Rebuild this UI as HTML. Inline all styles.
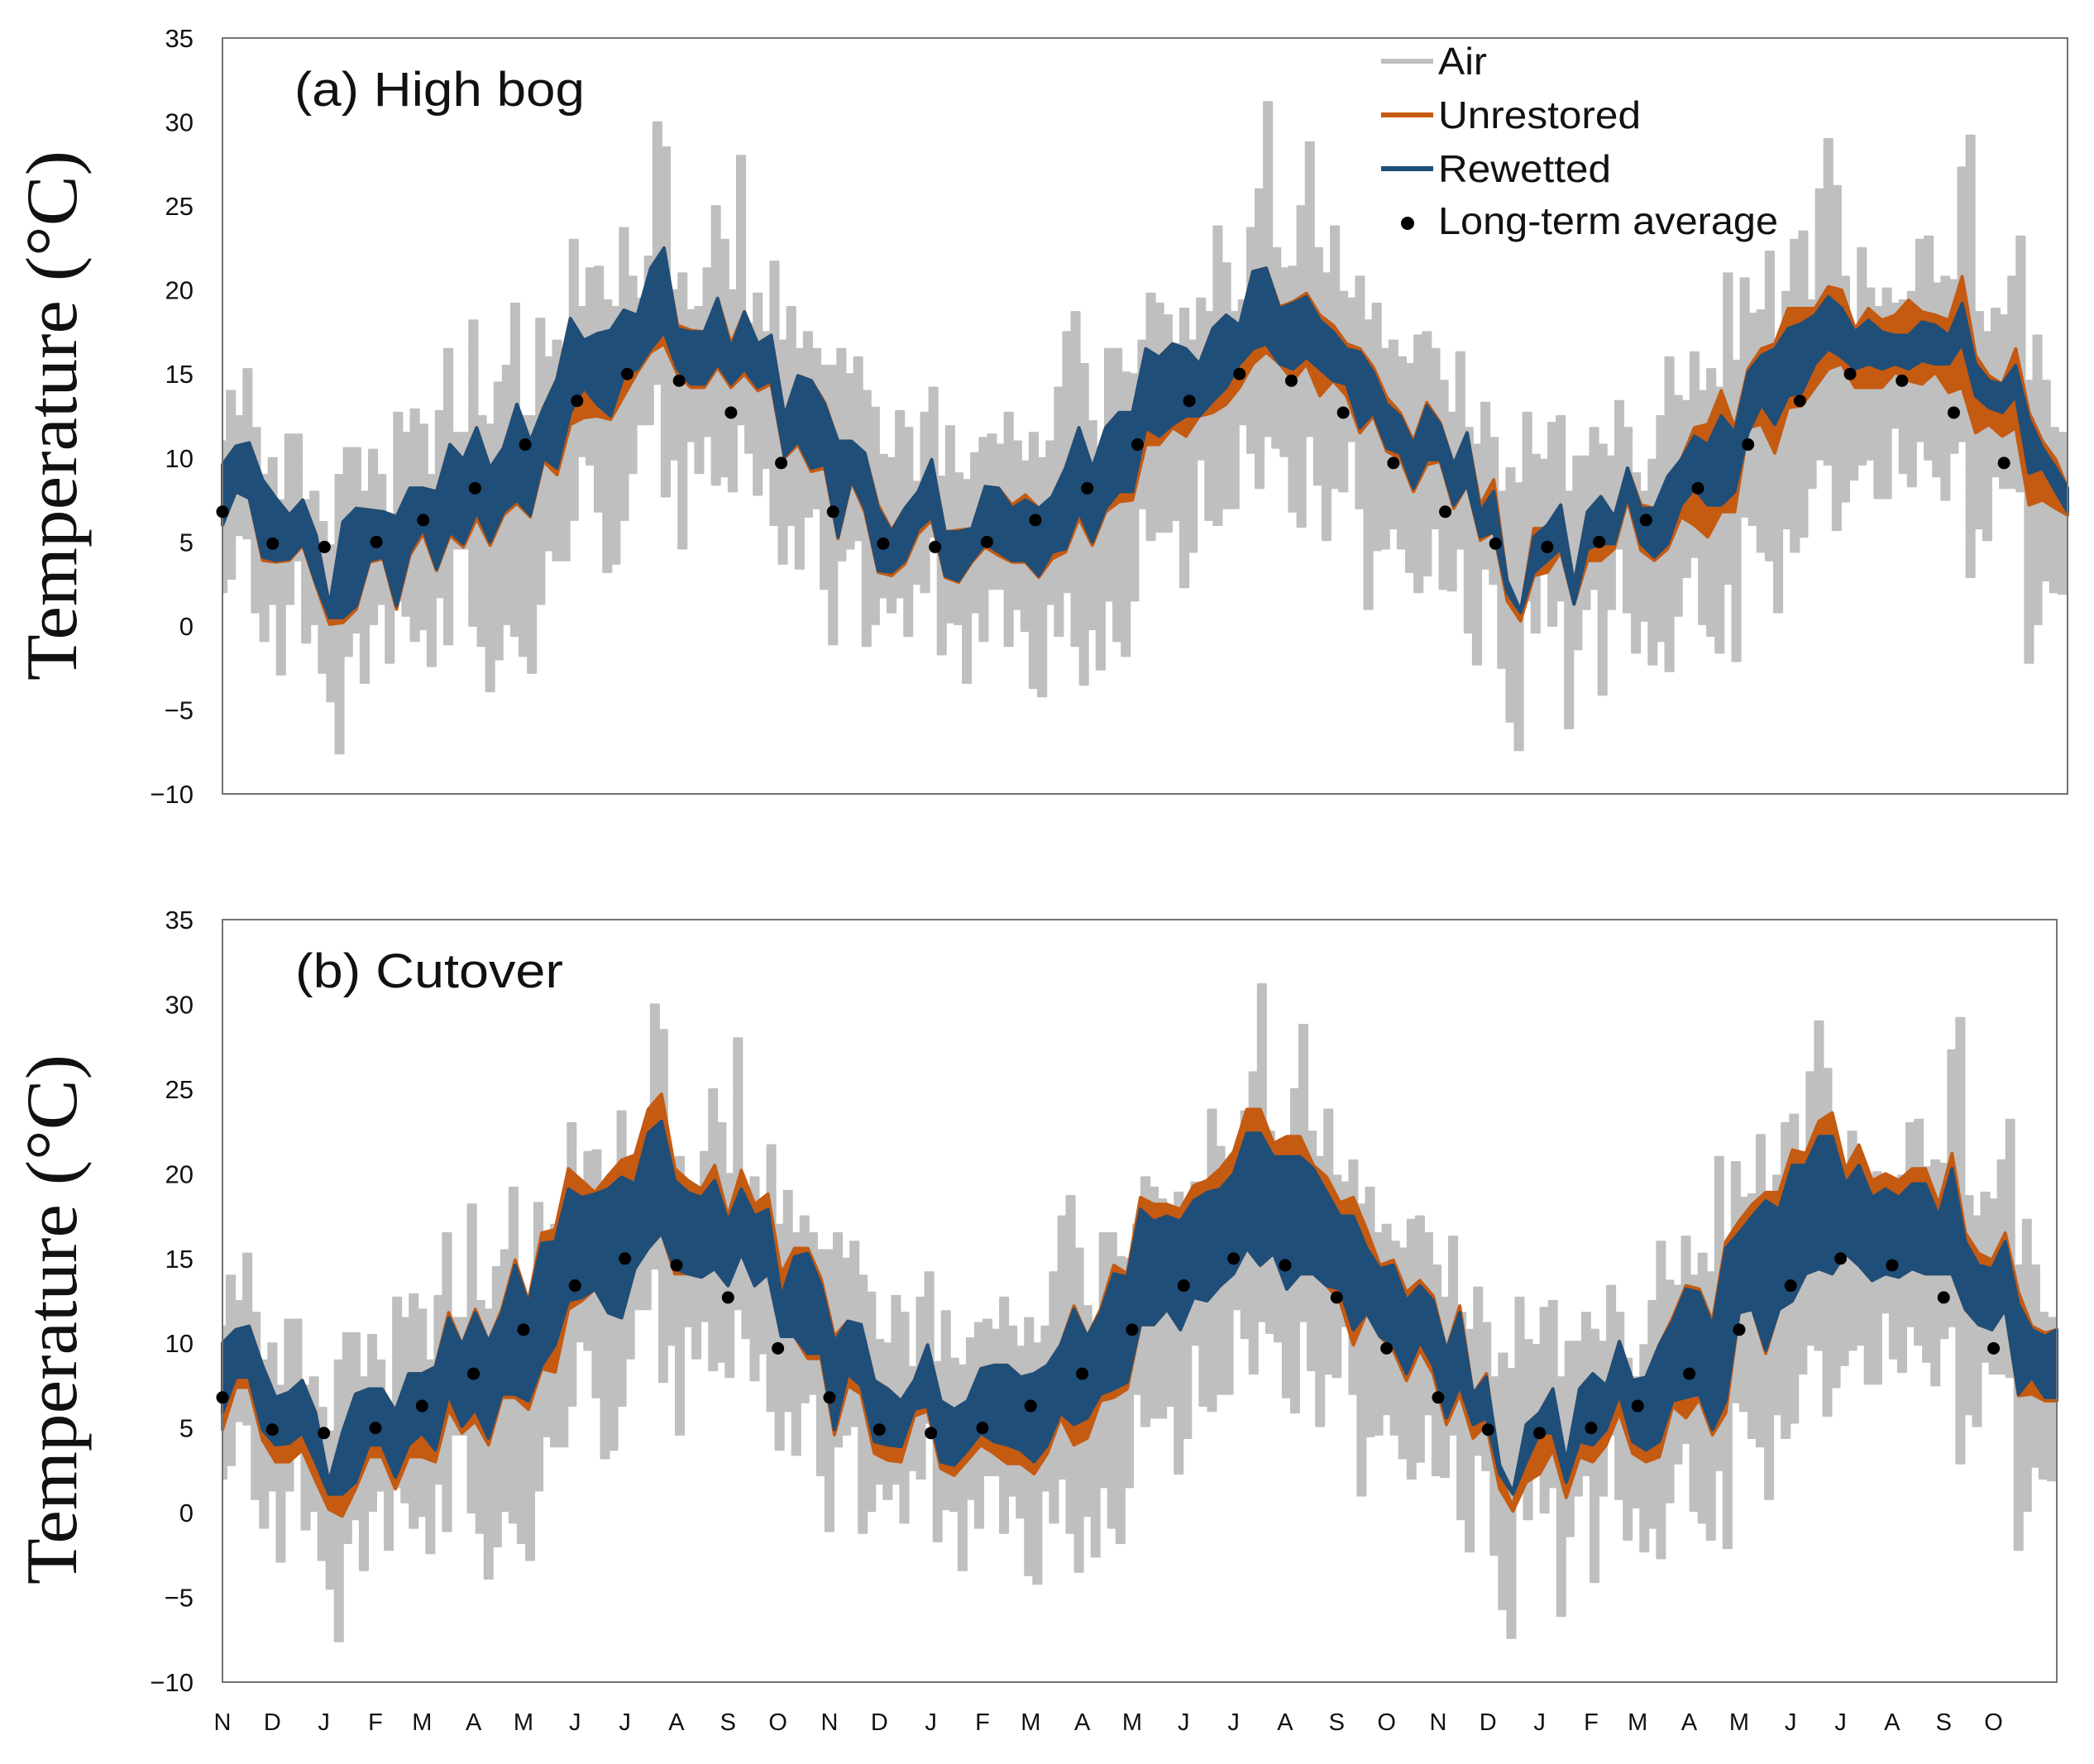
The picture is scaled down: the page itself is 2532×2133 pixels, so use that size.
<!DOCTYPE html>
<html lang="en">
<head>
<meta charset="utf-8">
<title>Temperature chart: high bog and cutover</title>
<style>
html,body{margin:0;padding:0;background:#fff;}
svg{display:block;}
text{font-family:"Liberation Sans",sans-serif;fill:#111;}
</style>
</head>
<body>
<svg id="chart" xmlns="http://www.w3.org/2000/svg" width="2532" height="2133" viewBox="0 0 2532 2133">
  <rect x="0" y="0" width="2532" height="2133" fill="#ffffff"/>
  <g id="panel-a"></g>
  <g id="panel-b"></g>
  <text x="356" y="128" font-size="58" textLength="351" lengthAdjust="spacingAndGlyphs">(a) High bog</text>
  <text x="357" y="1194" font-size="58" textLength="324" lengthAdjust="spacingAndGlyphs">(b) Cutover</text>
  <text transform="translate(92,823) rotate(-90)" style="font-family:'Liberation Serif',serif" font-size="88" textLength="641" lengthAdjust="spacingAndGlyphs">Temperature (°C)</text>
  <text transform="translate(92,1916) rotate(-90)" style="font-family:'Liberation Serif',serif" font-size="88" textLength="641" lengthAdjust="spacingAndGlyphs">Temperature (°C)</text>
  <g>
    <line x1="1670" x2="1733" y1="74" y2="74" stroke="#bfbfbf" stroke-width="6"/>
    <text x="1739" y="90" font-size="46" textLength="59" lengthAdjust="spacingAndGlyphs">Air</text>
    <line x1="1670" x2="1733" y1="139" y2="139" stroke="#c55a11" stroke-width="6"/>
    <text x="1739" y="155" font-size="46" textLength="245" lengthAdjust="spacingAndGlyphs">Unrestored</text>
    <line x1="1670" x2="1733" y1="204" y2="204" stroke="#1f4e79" stroke-width="6"/>
    <text x="1739" y="220" font-size="46" textLength="209" lengthAdjust="spacingAndGlyphs">Rewetted</text>
    <circle cx="1702" cy="270" r="8" fill="#000"/>
    <text x="1739" y="283" font-size="46" textLength="411" lengthAdjust="spacingAndGlyphs">Long-term average</text>
  </g>
</svg>
<script>
const yTickLabels = [35,30,25,20,15,10,5,0,-5,-10];
const monthLabels = ["N","D","J","F","M","A","M","J","J","A","S","O","N","D","J","F","M","A","M","J","J","A","S","O","N","D","J","F","M","A","M","J","J","A","S","O"];
const monthStartDay = [0,30,61,92,120,151,181,212,242,273,304,334,365,395,426,457,486,517,547,578,608,639,670,700,731,761,792,823,851,882,912,943,973,1004,1035,1065];
const longTermAverage = [6.8,4.9,4.7,5,6.3,8.2,10.8,13.4,15,14.6,12.7,9.7,6.8,4.9,4.7,5,6.3,8.2,10.8,13.4,15,14.6,12.7,9.7,6.8,4.9,4.7,5,6.3,8.2,10.8,13.4,15,14.6,12.7,9.7];
const dayDomain = 1103;
const airStepDays = 5;
const bandStepDays = 8;

const airHigh = [11,14,12.5,15.3,11.8,9,10,7.5,11.4,11.4,7.5,8,6.2,4.8,9,10.6,10.6,8,10.5,9,6.5,12.7,11.5,12.9,12,9,12.8,16.5,11.5,11.5,18.2,12.5,12,14.5,15.5,19.2,12.5,12.5,18.3,16,17,16.5,23,19,21.3,21.4,19.4,19,23.7,20.8,19.5,22,30,28.5,20,21,18.8,19,21.3,25,23,20,28,18,19.8,17.5,21.7,17,19,16.5,17.5,16.5,15.5,15.5,16.5,
15,16,14,13,10.2,10,12.8,11.8,8.6,12.7,14.2,8.9,11.9,9.1,8.7,10.3,11.2,11.4,10.8,12.7,11,9.8,11.5,10,11,14.2,17.5,18.7,15.6,12.2,10.6,16.5,16.5,15.1,15,17,19.8,19.2,18.5,16.8,18.9,17,19.5,18.7,23.8,21.6,18.7,19.4,23.7,26,31.2,22.5,21.3,21.4,25,28.8,22.5,21,23.8,19.9,19.5,20.8,18.2,19.2,16.5,17,16,15.6,17.3,17.5,16.5,14.6,12.7,16.3,
11.8,10.8,13.3,11.2,8,9.4,8.5,12.7,10.2,9.9,12.1,12.5,8,10.1,10.1,11.8,10.8,10.1,13.4,11.8,9.1,8,9.9,12.5,16,13.7,13.4,16.3,14,15.3,14.2,21,15.8,20.7,18.6,18.8,22.3,15.8,19.9,23,23.5,19.4,26,29,26.2,20.8,17.5,22.5,20.1,19,20.1,19.2,19.4,19.9,23,23.2,20.4,20.8,20.6,27.3,29.2,18.7,17.5,18.9,18.5,20.8,23.2,14.6,17.3,14.6,11.8,11.5];
const airLow = [2,2.8,5.4,5.2,.8,-.9,1.3,-2.9,1.3,3.9,-1,.1,-2.8,-4.5,-7.6,-1.8,-.4,-3.4,.1,1.3,-2.2,1.5,.6,-.9,-.2,-2.4,1.7,-1.1,4.6,4.6,0,-1.2,-3.9,-2,.1,-.6,-1.8,-2.8,1.3,4.5,3.9,3.9,6.3,10.1,9.6,6.8,3.2,3.7,6.3,9.1,12,12,14.4,7.7,9.9,4.6,11,9.1,11.3,8.4,8.9,8,12,10.3,7.8,9.4,6,3.7,6,3.4,6.5,7,2.2,-1.1,3.9,
4.6,5.1,-1.2,.1,1.7,.8,1.7,-.6,2.5,2,5.3,-1.7,.2,.1,-3.4,.8,-.9,2.2,2.2,-1.2,1,-.3,-3.7,-4.2,1.3,-.6,2,-1.2,-3.5,-.2,-2.6,1.5,-.9,-1.8,1.5,7,5.1,5.6,5.6,6.3,2.3,4.4,9.9,6.3,6,7,7,12,10.3,8.2,11.3,10.6,10.1,6.8,5.9,11.3,8.4,5.1,8.2,8,11,7,1,4.5,4.6,5.8,4.6,3.2,2,3,5.8,2.2,2.1,4.6,
-.4,-2.3,3.4,2.5,-2.5,-5.7,-7.4,1.5,-.4,4.6,0,1.5,-6.1,-1.4,1,2.2,-4.1,1,4.6,.8,-1.6,.3,-2.3,-.9,-2.7,.6,2.9,4.1,.1,-.6,-1.6,2.5,-2.1,6.5,6,4.4,3.9,.8,5.8,4.4,5.3,8.2,9.9,9.6,5.7,7.4,8.7,9.6,9.9,7.6,7.6,11.8,9.1,8.3,11,9.9,8.9,7.5,10.3,11,2.9,5.8,5.1,8.9,8.2,8.2,8,-2.2,.1,2.7,2,1.9];

const bogUnrestoredHigh = [9.6,10.7,10.9,8.7,7.6,6.6,7.5,5.4,1.2,6,7,6.9,6.8,6.5,8.2,8.2,8,10.8,9.9,11.8,9.4,10.6,13.2,11,13,14.7,18.3,17,17.4,17.6,18.8,18.5,21,22.3,17.9,17.6,17.5,19.5,16.8,18.7,16.8,17.3,12.5,14.9,14.6,13.3,11,
11,10.3,7.2,5.7,7,8,9.9,5.6,5.7,5.8,8.3,8.2,7.2,7.8,7,7.7,9.4,11.8,9.4,11.8,12.7,12.7,16.5,16,16.8,16.5,15.6,17.7,18.5,17.9,21.1,21.3,19,19.3,19.8,18.5,17.9,16.8,16.5,15.4,13.6,12.7,11,13.3,12.1,9.6,
11.5,7.2,8.7,2.7,.8,5.8,5.8,7.2,2.5,6.8,7.7,6.5,9.4,7.2,7,8.7,9.9,11.8,12,14,11.8,15.3,16.5,16.8,18.9,18.9,18.9,20.2,20,17.7,18.9,18.2,18.5,19.4,18.7,18.5,18.2,20.8,16.1,14.9,14.4,16.5,12.7,11,9.9,8.2];
const bogUnrestoredLow = [6,8,7.6,3.9,3.8,3.9,4.8,2.4,.1,.2,1,3.8,4,1,4.2,5.5,3.3,5.4,4.7,6.4,4.8,6.6,7.3,6.5,9.8,9,12,12.4,12.5,12.3,13.7,15.1,16.3,16.8,15,14.2,14.2,15.4,14.2,15,14,14.4,10,10.8,9.2,9.4,5.2,
8.6,6.8,3.2,3,3.7,5.5,6.3,2.9,2.6,3.8,4.7,4.2,3.8,3.8,2.9,4,4.4,6.4,4.8,6.8,7.4,7.5,10.8,10.8,11.8,11.3,12.5,12.7,13.2,14.2,15.6,16.3,15.6,14.6,15.6,13.7,14.6,13.7,11.5,12.5,10.4,10,8,9.6,9.8,7,
8.4,5.1,5.6,1.5,.3,3,3.2,4.4,1.3,3.9,3.9,4.6,7.5,4.5,3.9,4.6,6.5,6,5.3,6.8,6.8,11.8,12,10.3,13,13.1,14.2,15.3,15.6,14.2,14.2,14.2,15.1,14.6,14.4,15.1,13.9,14.2,11.5,12,11.3,11.8,7.2,7.5,7,6.6];
const bogRewettedHigh = [9.6,10.7,10.9,8.7,7.6,6.6,7.5,5.4,1.2,6.2,7,6.9,6.8,6.5,8.2,8.2,8,10.8,9.9,11.8,9.4,10.6,13.2,11,13,14.7,18.3,17,17.4,17.6,18.8,18.5,21.3,22.5,17.7,17.5,17.5,19.5,16.5,18.7,16.8,17.3,12.5,14.9,14.6,13.2,11,
11,10.3,7,5.6,7,8,9.9,5.6,5.6,5.8,8.3,8.2,7,7.5,7,7.7,9.4,11.8,9.4,11.8,12.7,12.7,16.5,16,16.8,16.5,15.6,17.7,18.5,17.9,21.1,21.3,18.9,19.2,19.6,18.2,17.5,16.5,16.3,15.1,13.2,12.5,10.8,13.1,12,9.6,
11.5,6.8,8,2.7,.9,5.3,6,7.2,2.5,6.8,7.7,6.5,9.4,7,7,8.9,9.9,11.3,10.8,12.5,11.5,15.1,16.1,16.5,17.7,18,18.5,19.6,18.9,17.5,18.2,17.5,17.3,17.3,18.1,17.9,17.3,19.2,15.6,14.6,14.4,15.5,12.3,10.6,9.4,8.2];
const bogRewettedLow = [6,8,7.6,4.1,3.9,4,4.9,2.5,.5,.5,1.2,3.9,4.1,1.2,4.4,5.8,3.4,5.6,4.9,6.8,5,6.8,7.5,6.6,10,9.4,12.7,14.2,13.2,12.5,14.9,15.3,16.5,17.5,15.3,14.4,14.4,15.6,14.4,15.3,14.2,14.6,10.1,11,9.4,9.6,5.3,
8.7,7,3.3,3.2,3.9,5.8,6.5,3,2.7,3.9,4.9,4.4,3.9,3.9,3,4.4,4.6,6.8,5,7,8,8,11.8,11.3,12,12.5,12.5,13.4,14.2,15.6,16.5,16.8,15.6,15.3,16,15.3,14.6,14.4,11.8,12.7,10.6,10.3,8.2,9.9,9.9,7.2,
8.4,5.3,5.6,2,.8,3.2,3.9,4.6,1.3,4.6,4.9,4.9,7.7,4.9,4.1,4.9,7.2,8.2,7.2,7.2,8,11.5,13.2,12,13.7,13.9,15.6,16.5,16,15.3,15.6,15.3,15.6,15.3,15.8,15.6,15.6,16.8,13.7,13,12.7,13.7,9.1,9.4,8,6.8];

const cutUnrestoredHigh = [10,10.8,11,8.7,6.8,7.1,7.8,5.9,1.4,4.7,7,7.3,7.3,6,8.2,8.2,8.6,11.8,9.9,12,10.1,12,14.9,12.5,16.5,16.7,20.3,19.6,18.9,19.9,20.8,21.1,23.8,24.7,20.3,19.6,19.1,20.5,17.5,20.2,18.2,18.8,14.1,15.6,15.6,13.8,10.4,
11.3,11.1,7.8,7.3,6.6,7.8,9.9,6.6,6.1,6.6,8.5,8.7,8.7,8,8.2,8.7,9.9,12.2,10.4,12,14.6,14.1,18.6,18.2,18.2,17.9,19.3,19.6,20.3,21.3,23.8,23.8,21.8,22.2,22.2,20.5,19.8,18.3,18.6,16.7,14.6,14.9,13,13.7,12.8,9.6,
12.2,7,8.2,2.3,.3,5.2,5.9,7.3,1.8,7.3,8.2,7.5,10.1,7.8,8,9.9,11.5,13.4,13.2,11.3,16,17.2,18.2,18.9,18.9,21.4,21.2,23.1,23.6,20.3,21.7,19.6,20,19.6,20.3,20.3,18.2,21.2,16.5,15.3,14.9,16.5,13,11,10.6,10.8];
const cutUnrestoredLow = [4.9,7.4,7.4,4.3,3,3,3.7,1.9,.2,-.2,1.4,3.3,3.3,1.4,3.3,3.3,3,6.1,4.7,5.4,4,6.8,6.8,6.1,8.5,8.3,12,12.5,13.2,11.8,11.5,14.4,15.6,16.5,14.1,14.1,13.9,14.4,13.4,15.3,13.4,14.1,10.4,10.4,9.1,9.1,4.6,
7.5,7,3.5,3.1,3,5.7,6,2.6,2.2,3.1,4,3.5,2.9,2.9,2.3,3.5,5.6,4,4.4,6.6,6.8,7.3,11.1,11.1,12,10.8,12.7,12.5,13.4,14.1,15.6,14.6,15.3,13.2,14.1,14.1,13.4,12.5,9.9,11.8,10.4,9.6,7.8,9.6,8.2,5.2,
7,4.4,5.2,1.4,.1,1.8,2.3,3.7,.9,3.3,3,4,5.9,3.5,3,3.3,6.3,5.6,6.7,4.6,5.9,11.8,12,9.4,12,12.5,14.1,14.4,14.1,15.3,14.6,13.7,14.1,13.9,14.4,14.1,14.1,14.1,12,11.1,10.8,12,6.9,7,6.6,6.6];
const cutRewettedHigh = [10,10.8,11,8.7,6.8,7.1,7.8,5.9,1.8,4.7,7,7.3,7.3,6,8.2,8.2,8.6,11.5,9.9,11.8,10.1,11.8,14.6,12.3,15.9,16,19.1,18.6,18.8,19.1,19.8,19.4,22.4,23.1,19.6,18.9,18.6,19.6,17.2,19.1,17.5,17.9,12.7,15.1,15.3,13.4,10.1,
11.3,11.1,7.8,7.3,6.6,7.8,9.9,6.6,6.1,6.6,8.5,8.7,8.7,8,8.2,8.7,9.9,12,10.4,11.8,14.1,13.9,17.9,17.2,17.5,17.2,18.4,18.9,19.1,20,22.4,22.4,21,21,21,20.3,18.9,17.5,17.5,15.6,14.4,14.6,12.5,13.4,12.5,9.6,
11.8,7,8,2.8,1.2,5.2,5.9,7.3,3,7.3,8.2,7.5,10.1,7.8,8,9.9,11.3,13.2,13,11,15.6,16.5,17.5,18.4,17.9,20.5,20.5,22.2,22.2,19.4,20.5,18.6,19.1,18.6,19.4,19.4,17.5,20.3,16,14.6,14.4,16,12.3,10.8,10.4,10.8];
const cutRewettedLow = [5.9,8,8,4.9,4,4.1,4.7,3,1.1,1.1,1.8,4,4,2.1,4,4.7,3.7,7,5.1,6.1,4.4,7,7,6.6,8.7,9.9,12.5,12.7,13.2,11.8,11.5,14.4,15.6,16.5,14.4,14.1,13.9,14.4,13.4,15.3,13.4,14.1,10.4,10.4,9.4,9.4,4.9,
8.2,7.5,4.2,4,3.9,6.1,6.3,3,2.8,3.7,4.7,4.2,4,3.7,3,4,5.9,5.2,5.6,7,7.3,7.7,11.1,11.1,12,10.8,12.7,12.5,13.4,14.1,15.6,14.6,15.3,13.2,14.1,14.1,13.4,13.2,10.8,11.8,10.4,9.9,8.2,10.1,8.7,5.6,
7.5,5.2,5.6,2.3,1.1,3,4.7,4.7,1.8,4.2,4,4.9,7,4.2,3.7,4.2,6.6,6.8,7,4.9,6.6,11.8,12,9.6,12,12.5,14.1,14.4,14.1,15.3,14.6,13.7,14.1,13.9,14.4,14.1,14.1,14.1,12,11.1,10.8,12,7,8,6.8,6.8];

const SVG_NS = "http://www.w3.org/2000/svg";
function svgEl(tag, attrs) {
  const el = document.createElementNS(SVG_NS, tag);
  for (const k in attrs) el.setAttribute(k, attrs[k]);
  return el;
}
function stepEdge(values, step, xScale, yScale) {
  const pts = [];
  values.forEach((v, i) => {
    const d0 = Math.max(0, i * step - step / 2);
    const d1 = Math.min(dayDomain, i * step + step / 2);
    const y = yScale(v).toFixed(1);
    pts.push(xScale(d0).toFixed(1) + " " + y);
    pts.push(xScale(d1).toFixed(1) + " " + y);
  });
  return pts;
}
function stepBandPath(high, low, step, xScale, yScale) {
  const top = stepEdge(high, step, xScale, yScale);
  const bottom = stepEdge(low, step, xScale, yScale).reverse();
  return "M" + top.concat(bottom).join("L") + "Z";
}
function linearEdge(values, step, xScale, yScale) {
  return values.map((v, i) => xScale(Math.min(i * step, dayDomain)).toFixed(1) + " " + yScale(v).toFixed(1));
}
function linearBandPath(high, low, step, xScale, yScale) {
  const top = linearEdge(high, step, xScale, yScale);
  const bottom = linearEdge(low, step, xScale, yScale).reverse();
  return "M" + top.concat(bottom).join("L") + "Z";
}
function drawPanel(rootId, box, unHigh, unLow, reHigh, reLow, showMonths) {
  const root = document.getElementById(rootId);
  const xScale = d => box.left + (box.right - box.left) * d / dayDomain;
  const yScale = v => box.top + (box.bottom - box.top) * (35 - v) / 45;

  const air = svgEl("path", {d: stepBandPath(airHigh, airLow, airStepDays, xScale, yScale), fill: "#bfbfbf", stroke: "#bfbfbf", "stroke-width": 2, "stroke-linejoin": "round"});
  
  
  root.appendChild(air);

  const un = svgEl("path", {d: linearBandPath(unHigh, unLow, bandStepDays, xScale, yScale), fill: "#c55a11", stroke: "#c55a11", "stroke-width": 4, "stroke-linejoin": "round"});
  
  
  root.appendChild(un);

  const re = svgEl("path", {d: linearBandPath(reHigh, reLow, bandStepDays, xScale, yScale), fill: "#1f4e79", stroke: "#1f4e79", "stroke-width": 4, "stroke-linejoin": "round"});
  
  
  root.appendChild(re);

  const frame = svgEl("rect", {x: box.left, y: box.top, width: box.right - box.left, height: box.bottom - box.top, fill: "none", stroke: "#737373", "stroke-width": 2});
  
  
  root.appendChild(frame);

  longTermAverage.forEach((v, i) => {
    const dot = svgEl("circle", {cx: xScale(monthStartDay[i]), cy: yScale(v), r: 7.5, fill: "#000"});
    
    
    root.appendChild(dot);
  });

  yTickLabels.forEach(v => {
    const t = svgEl("text", {x: 234, y: yScale(v) + 11, "text-anchor": "end", "font-size": 31});
    t.textContent = v < 0 ? "\u2212" + Math.abs(v) : String(v);
    
    
    root.appendChild(t);
  });

  if (showMonths) {
    monthLabels.forEach((m, i) => {
      const t = svgEl("text", {x: xScale(monthStartDay[i]), y: 2092, "text-anchor": "middle", "font-size": 29});
      t.textContent = m;
      
      
      root.appendChild(t);
    });
  }
}
drawPanel("panel-a", {left: 269, right: 2500, top: 46, bottom: 960}, bogUnrestoredHigh, bogUnrestoredLow, bogRewettedHigh, bogRewettedLow, false);
drawPanel("panel-b", {left: 269, right: 2487, top: 1112, bottom: 2034}, cutUnrestoredHigh, cutUnrestoredLow, cutRewettedHigh, cutRewettedLow, true);
</script>
</body>
</html>
